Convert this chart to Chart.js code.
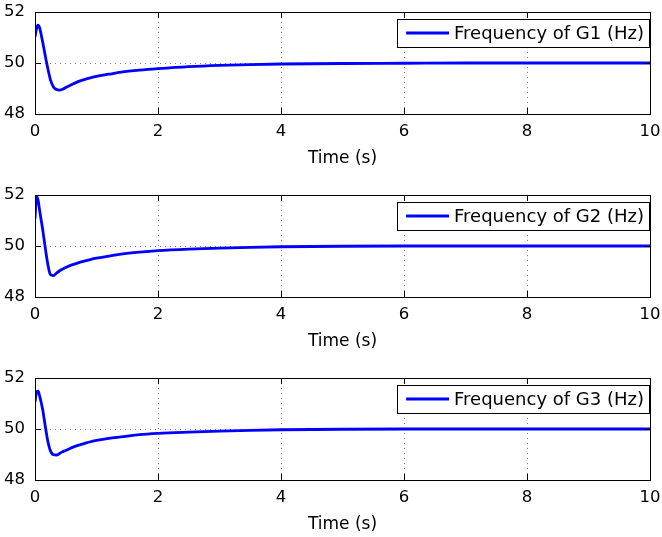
<!DOCTYPE html>
<html>
<head>
<meta charset="utf-8">
<script src="https://cdn.jsdelivr.net/npm/chart.js@4/dist/chart.umd.min.js"></script>
<style>
  html, body { margin: 0; padding: 0; background: #ffffff; overflow: hidden; }
  canvas { position: absolute; left: 0; }
</style>
</head>
<body>
<canvas id="c1" width="662" height="171" style="top:0px"></canvas>
<canvas id="c2" width="662" height="171" style="top:183px"></canvas>
<canvas id="c3" width="662" height="171" style="top:366px"></canvas>
<script>
// Simulation time base (s)
const timeS = [0, 0.025, 0.05, 0.075, 0.1, 0.125, 0.15, 0.175, 0.2, 0.225, 0.25, 0.3, 0.35, 0.4, 0.45, 0.5,
               0.6, 0.7, 0.8, 0.9, 1.0, 1.2, 1.4, 1.7, 2.0, 2.5, 3, 3.5, 4, 5, 6, 7, 8, 9, 10];

// Generator frequencies (Hz)
const freqG1 = [51.02, 51.35, 51.48, 51.38, 51.12, 50.82, 50.5, 50.18, 49.88, 49.6, 49.35, 49.06, 48.96, 48.94, 48.97, 49.04,
                49.16, 49.27, 49.35, 49.42, 49.48, 49.56, 49.64, 49.72, 49.78, 49.86, 49.91, 49.94, 49.96, 49.98, 49.99,
                50.0, 50.0, 50.0, 50.0];
const freqG2 = [51.07, 51.95, 51.8, 51.4, 51.02, 50.65, 50.22, 49.8, 49.4, 49.08, 48.88, 48.84, 48.94, 49.03, 49.1, 49.16,
                49.26, 49.34, 49.41, 49.47, 49.52, 49.6, 49.68, 49.76, 49.82, 49.88, 49.92, 49.95, 49.97, 49.99, 50.0,
                50.0, 50.0, 50.0, 50.0];
const freqG3 = [51.06, 51.45, 51.48, 51.3, 51.05, 50.76, 50.38, 49.99, 49.63, 49.35, 49.15, 48.99, 48.98, 49.04, 49.11, 49.16,
                49.27, 49.36, 49.43, 49.5, 49.55, 49.63, 49.69, 49.78, 49.83, 49.88, 49.92, 49.95, 49.97, 49.99, 50.0,
                50.0, 50.0, 50.0, 50.0];

const seriesLabels = ['Frequency of G1 (Hz)', 'Frequency of G2 (Hz)', 'Frequency of G3 (Hz)'];
const xTicks = [0, 2, 4, 6, 8, 10];
const yTicks = [48, 50, 52];
const xTitle = 'Time (s)';

const FONT = '"DejaVu Sans", sans-serif';

// Axes box plus short inward tick marks on all four sides
const framePlugin = {
  id: 'frame',
  afterDatasetsDraw(chart) {
    const { ctx, chartArea: a, scales } = chart;
    const len = 6;
    ctx.save();
    ctx.strokeStyle = '#000000';
    ctx.lineWidth = 1;
    ctx.beginPath();
    scales.x.ticks.forEach(t => {
      const px = Math.round(scales.x.getPixelForValue(t.value)) + 0.5;
      ctx.moveTo(px, a.bottom); ctx.lineTo(px, a.bottom - len);
      ctx.moveTo(px, a.top); ctx.lineTo(px, a.top + len);
    });
    scales.y.ticks.forEach(t => {
      const py = Math.round(scales.y.getPixelForValue(t.value)) + 0.5;
      ctx.moveTo(a.left, py); ctx.lineTo(a.left + len, py);
      ctx.moveTo(a.right, py); ctx.lineTo(a.right - len, py);
    });
    ctx.stroke();
    ctx.strokeRect(a.left + 0.5, a.top + 0.5, a.right - a.left, a.bottom - a.top);
    ctx.restore();
  }
};

// Legend box drawn inside the top-right corner of the plot area
const insideLegend = {
  id: 'insideLegend',
  afterDraw(chart) {
    const { ctx, chartArea: a } = chart;
    const ds = chart.data.datasets[0];
    ctx.save();
    ctx.font = '18px ' + FONT;
    const w = ctx.measureText(ds.label).width;
    const boxRight = a.right - 1;
    const boxTop = a.top + 7;
    const boxH = 28;
    const textRight = boxRight - 5;
    const textLeft = textRight - w;
    const lineRight = textLeft - 5;
    const lineLeft = lineRight - 43;
    const boxLeft = lineLeft - 9;
    const cy = boxTop + boxH / 2;
    ctx.fillStyle = '#ffffff';
    ctx.fillRect(boxLeft, boxTop, boxRight - boxLeft, boxH);
    ctx.strokeStyle = '#000000';
    ctx.lineWidth = 1;
    ctx.strokeRect(Math.round(boxLeft) + 0.5, boxTop + 0.5, Math.round(boxRight - boxLeft), boxH);
    ctx.strokeStyle = ds.borderColor;
    ctx.lineWidth = 3;
    ctx.beginPath();
    ctx.moveTo(lineLeft, cy); ctx.lineTo(lineRight, cy);
    ctx.stroke();
    ctx.fillStyle = '#000000';
    ctx.textBaseline = 'middle';
    ctx.textAlign = 'left';
    ctx.fillText(ds.label, textLeft, cy + 1);
    ctx.restore();
  }
};

function makeChart(id, label, values) {
  const points = timeS.map((t, i) => ({ x: t, y: values[i] }));
  return new Chart(document.getElementById(id), {
    type: 'line',
    data: {
      datasets: [{
        label: label,
        data: points,
        borderColor: '#0000ff',
        borderWidth: 2.8,
        pointRadius: 0,
        fill: false,
        cubicInterpolationMode: 'monotone'
      }]
    },
    options: {
      responsive: false,
      animation: false,
      devicePixelRatio: 1,
      layout: { padding: { top: 12, right: 12, left: 0, bottom: 0 } },
      plugins: { legend: { display: false }, tooltip: { enabled: false } },
      scales: {
        x: {
          type: 'linear',
          min: xTicks[0],
          max: xTicks[xTicks.length - 1],
          afterBuildTicks: s => { s.ticks = xTicks.map(v => ({ value: v })); },
          afterFit: s => { s.height = 57; s.paddingLeft = 0; s.paddingRight = 0; },
          grid: { color: '#808080', lineWidth: 1, drawTicks: false },
          border: { display: false, dash: [1, 4] },
          ticks: { color: '#000000', padding: 8, font: { family: FONT, size: 16.5 }, maxRotation: 0 },
          title: { display: true, text: xTitle, color: '#000000', font: { family: FONT, size: 17 }, padding: { top: 0, bottom: 2 } }
        },
        y: {
          type: 'linear',
          min: yTicks[0],
          max: yTicks[yTicks.length - 1],
          afterBuildTicks: s => { s.ticks = yTicks.map(v => ({ value: v })); },
          afterFit: s => { s.width = 35; s.paddingTop = 0; s.paddingBottom = 0; },
          grid: { color: '#808080', lineWidth: 1, drawTicks: false },
          border: { display: false, dash: [1, 4] },
          ticks: { color: '#000000', padding: 10, font: { family: FONT, size: 16.5 } }
        }
      }
    },
    plugins: [framePlugin, insideLegend]
  });
}

makeChart('c1', seriesLabels[0], freqG1);
makeChart('c2', seriesLabels[1], freqG2);
makeChart('c3', seriesLabels[2], freqG3);
</script>
</body>
</html>
